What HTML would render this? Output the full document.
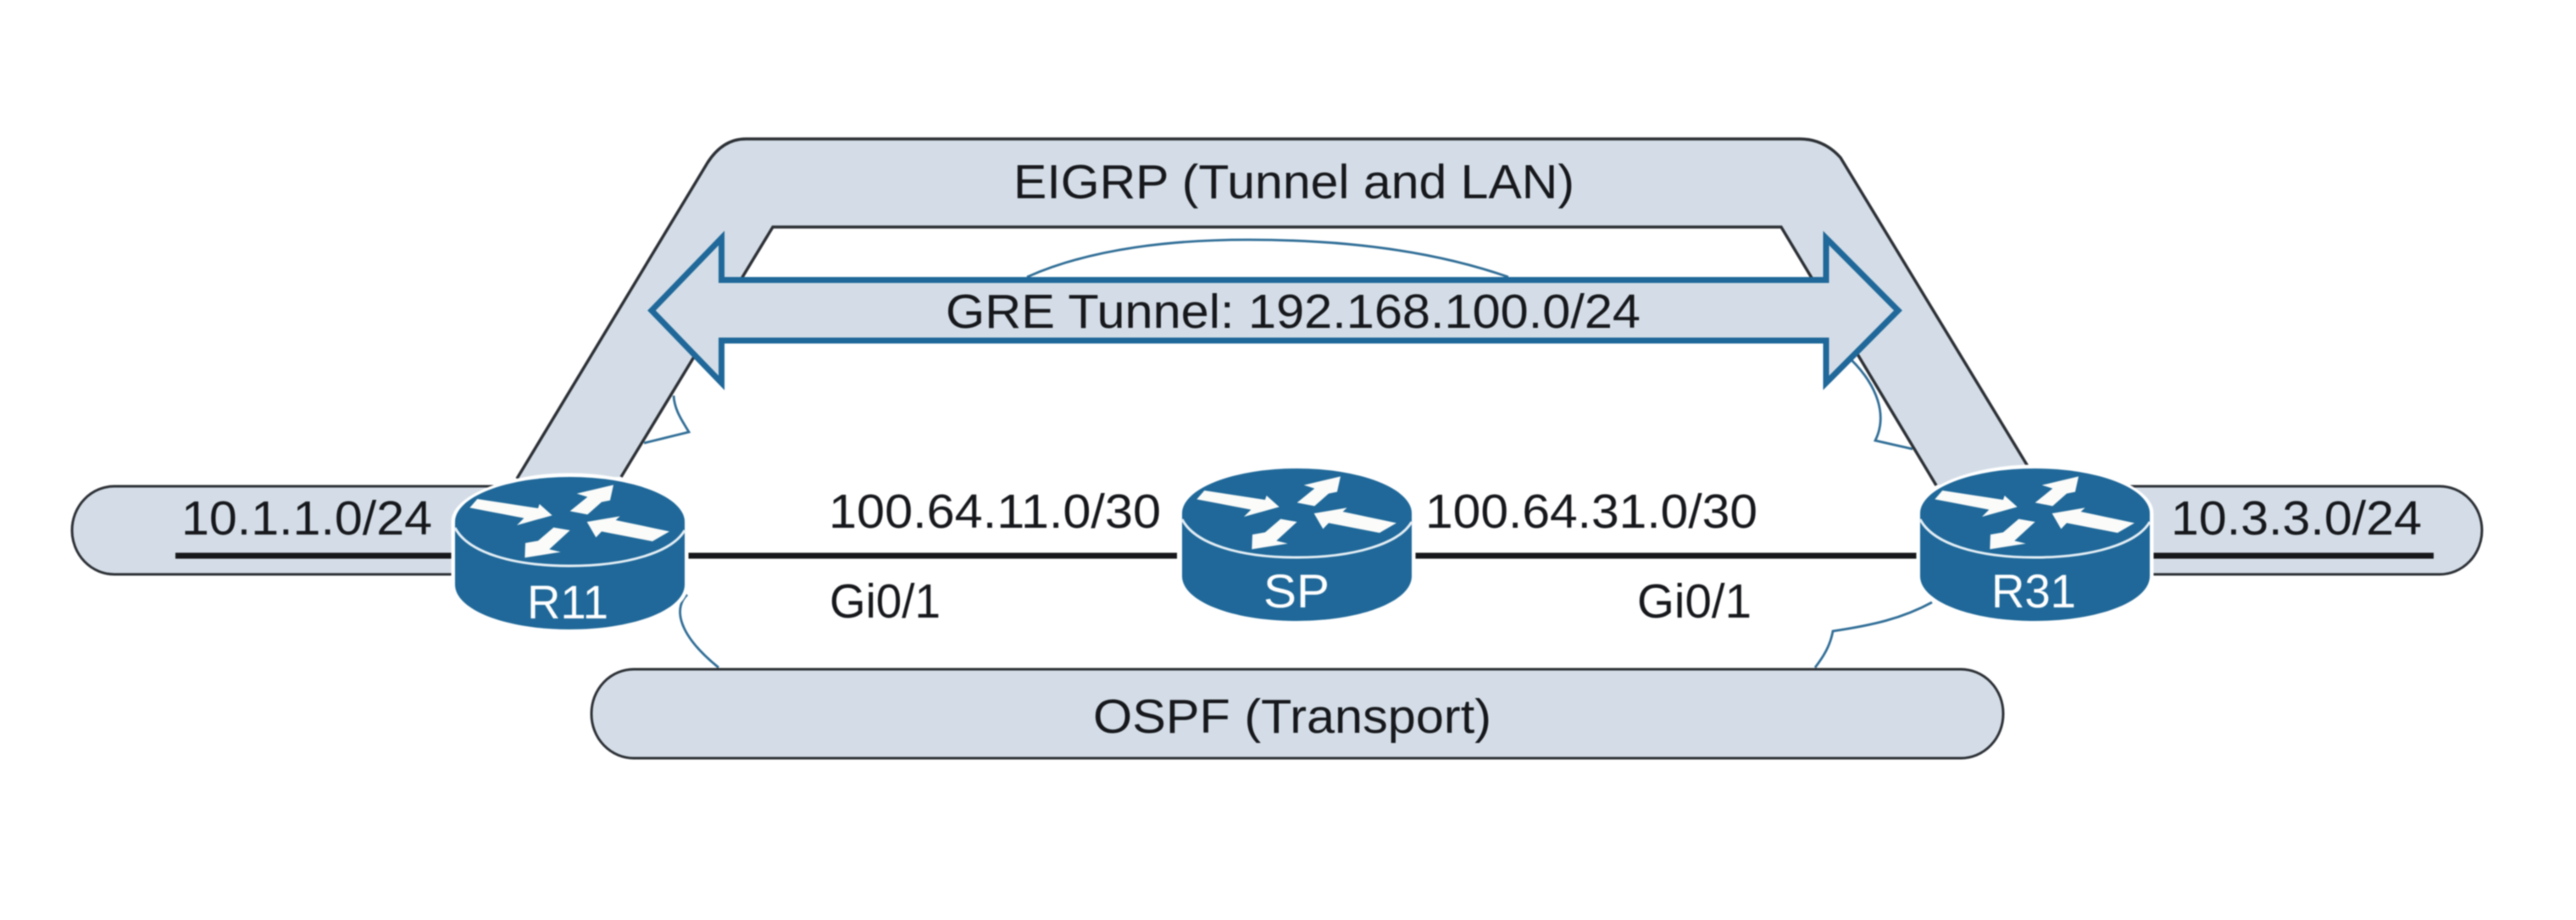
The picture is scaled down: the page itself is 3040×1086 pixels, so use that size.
<!DOCTYPE html>
<html>
<head>
<meta charset="utf-8">
<style>
html,body{margin:0;padding:0;background:#fff;width:3040px;height:1086px;overflow:hidden}
svg{display:block;filter:blur(0.7px)}
text{font-family:"Liberation Sans",Arial,sans-serif;fill:#16181c;font-size:57px}
</style>
</head>
<body>
<svg width="3040" height="1086" viewBox="0 0 3040 1086" xmlns="http://www.w3.org/2000/svg">
<defs>
<g id="router">
  <path d="M537,616 V690 C537,720 597,743 672,743 C748,743 808,720 808,690 V616 C808,590 748,563 672,563 C597,563 537,590 537,616 Z" fill="#fff" stroke="#fff" stroke-width="9"/>
  <path d="M537,616 V690 C537,720 597,743 672,743 C748,743 808,720 808,690 V616 Z" fill="#1f6899"/>
  <ellipse cx="672.5" cy="616" rx="135.5" ry="53" fill="#1f6899"/>
  <path d="M537,623 C552,652 605,668 672,668 C740,668 793,652 808,626" fill="none" stroke="#e4eef5" stroke-width="3"/>
  <g transform="translate(520,540) scale(0.3333)" fill="#fbfbf9">
    <polygon points="103,178 130,147 345,180 350,165 395,205 270,240 295,215"/>
    <polygon points="612,97 482,128 520,140 458,190 520,202 570,158 600,152"/>
    <polygon points="810,262 620,222 635,208 518,228 550,283 570,262 750,297"/>
    <polygon points="400,248 345,295 300,303 298,355 425,335 385,325 458,258"/>
  </g>
</g>
</defs>

<rect width="3040" height="1086" fill="#fff"/>

<!-- thin cloud curves -->
<g fill="none" stroke="#2f6d96" stroke-width="2.8">
  <path d="M1212,327 C1290,292 1390,283 1473,283 C1570,283 1680,292 1780,327"/>
  <path d="M795,467 C796,485 806,498 813,510 L760,523"/>
  <path d="M2185,425 C2215,455 2228,490 2213,520 L2257,530"/>
  <path d="M811,702 C797,715 795,745 848,788"/>
  <path d="M2280,711 C2245,730 2210,738 2163,745 C2160,762 2152,775 2142,788"/>
</g>

<!-- LAN pills -->
<rect x="85" y="574" width="560" height="104" rx="50" ry="52" fill="#d4dde7" stroke="#2c3035" stroke-width="3"/>
<rect x="2400" y="574" width="529" height="104" rx="50" ry="52" fill="#d4dde7" stroke="#2c3035" stroke-width="3"/>

<!-- EIGRP shape -->
<path d="M610,565 L835,192 Q853,164 880,164 H2124 Q2152,164 2172,186 L2394,552 L2285,573 L2102,268 H912 L733,563 Z" fill="#d4dde7"/>
<g fill="none" stroke="#2c3035" stroke-width="3.5">
  <path d="M610,565 L835,192 Q853,164 880,164 H2124 Q2152,164 2172,186 L2394,552"/>
  <path d="M733,563 L912,268 H2102 L2285,573"/>
</g>

<!-- OSPF pill -->
<rect x="698" y="790" width="1666" height="105" rx="50" ry="52" fill="#d4dde7" stroke="#2c3035" stroke-width="3"/>

<!-- black links -->
<g stroke="#17181b" stroke-width="7" fill="none">
  <line x1="207" y1="656" x2="533" y2="656"/>
  <line x1="811" y1="656" x2="1389" y2="656"/>
  <line x1="1670" y1="656" x2="2262" y2="656"/>
  <line x1="2541" y1="656" x2="2872" y2="656"/>
</g>

<!-- GRE arrow -->
<polygon points="769,366.5 851.5,281 851.5,330.5 2155,330.5 2155,281 2240,366.5 2155,452 2155,402 851.5,402 851.5,452" fill="#d4dde7" stroke="#1f6899" stroke-width="7" stroke-linejoin="miter"/>

<!-- routers -->
<use href="#router"/>
<use href="#router" transform="translate(858,-10)"/>
<use href="#router" transform="translate(1729,-10)"/>

<!-- labels -->
<text x="1196" y="234" textLength="662" lengthAdjust="spacingAndGlyphs">EIGRP (Tunnel and LAN)</text>
<text x="1116" y="387" textLength="820" lengthAdjust="spacingAndGlyphs">GRE Tunnel: 192.168.100.0/24</text>
<text x="214" y="631" textLength="296" lengthAdjust="spacingAndGlyphs">10.1.1.0/24</text>
<text x="2562" y="631" textLength="296" lengthAdjust="spacingAndGlyphs">10.3.3.0/24</text>
<text x="978" y="623" textLength="392" lengthAdjust="spacingAndGlyphs">100.64.11.0/30</text>
<text x="1682" y="623" textLength="392" lengthAdjust="spacingAndGlyphs">100.64.31.0/30</text>
<text x="979" y="729" textLength="131" lengthAdjust="spacingAndGlyphs">Gi0/1</text>
<text x="1932" y="729" textLength="135" lengthAdjust="spacingAndGlyphs">Gi0/1</text>
<text x="1290" y="865" textLength="470" lengthAdjust="spacingAndGlyphs">OSPF (Transport)</text>

<text x="622" y="730" textLength="96" lengthAdjust="spacingAndGlyphs" style="fill:#fff;font-size:56px">R11</text>
<text x="1491" y="717" textLength="78" lengthAdjust="spacingAndGlyphs" style="fill:#fff;font-size:56px">SP</text>
<text x="2350" y="717" textLength="100" lengthAdjust="spacingAndGlyphs" style="fill:#fff;font-size:56px">R31</text>
</svg>
</body>
</html>
